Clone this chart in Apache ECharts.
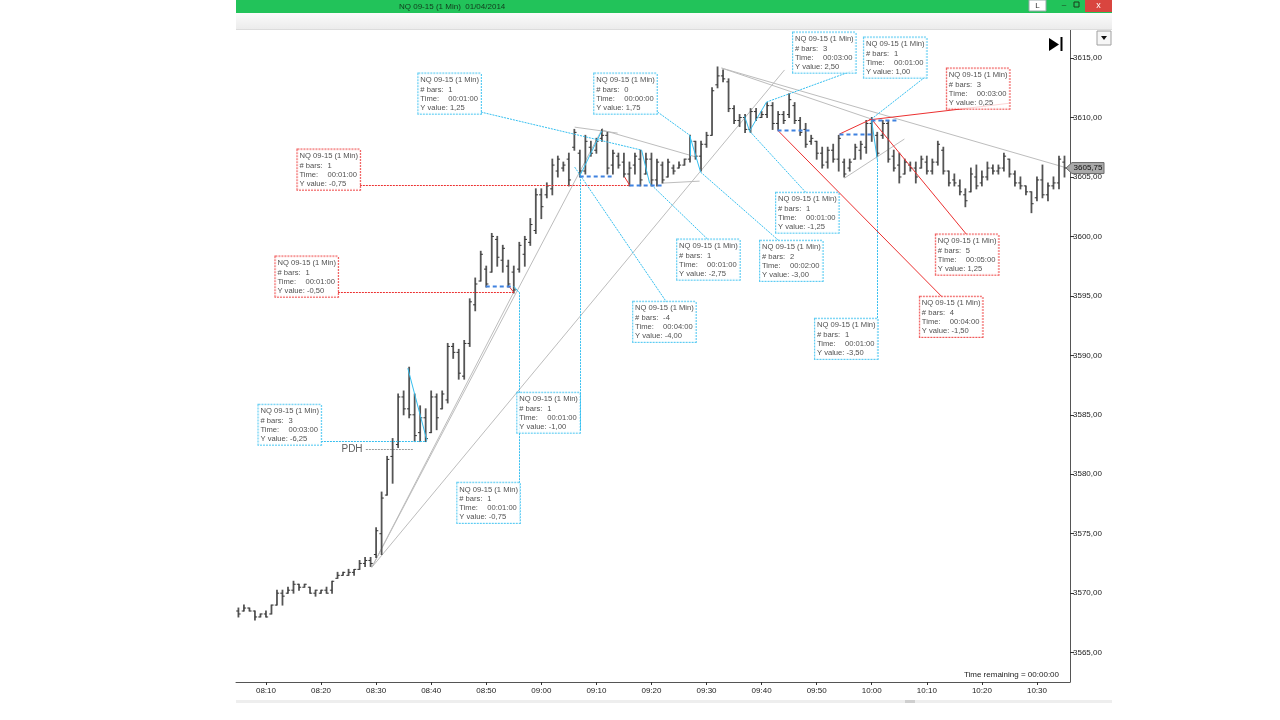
<!DOCTYPE html>
<html><head><meta charset="utf-8">
<script src="https://cdn.jsdelivr.net/npm/echarts@6/dist/echarts.min.js"></script>
<style>html,body{margin:0;padding:0;background:#fff}#c{width:1280px;height:720px}</style>
</head><body><div id="c"></div>
<script>
// ---- data (minute index 0 = 08:05) ----
const opens = [3568.50,3568.50,3568.75,3568.50,3568.00,3568.25,3568.25,3569.00,3570.00,3570.00,
3570.25,3570.75,3570.50,3570.50,3570.00,3570.00,3570.25,3570.25,3571.25,3571.50,
3571.50,3571.75,3572.00,3572.50,3572.75,3573.25,3575.00,3578.25,3581.50,3582.50,
3586.50,3585.50,3585.00,3583.50,3584.75,3583.50,3586.50,3585.50,3586.25,3590.75,
3590.25,3588.25,3591.00,3594.25,3596.25,3597.25,3597.00,3599.75,3598.00,3597.50,
3597.00,3597.25,3598.50,3599.50,3600.50,3603.50,3603.50,3604.00,3605.50,3605.75,
3606.50,3607.50,3607.00,3605.50,3607.50,3607.25,3608.25,3608.50,3606.00,3606.75,
3606.25,3605.25,3606.00,3606.50,3605.25,3606.50,3604.75,3606.00,3605.00,3605.75,
3605.75,3606.00,3606.50,3608.00,3606.75,3607.75,3608.50,3612.75,3613.50,3613.00,
3610.75,3609.75,3610.00,3609.00,3610.50,3610.00,3610.25,3611.00,3609.50,3610.25,
3610.25,3611.00,3609.75,3609.00,3608.00,3608.00,3607.00,3606.25,3607.25,3606.50,
3606.25,3605.75,3606.50,3607.25,3607.50,3609.50,3608.50,3608.50,3609.50,3606.75,
3606.00,3605.25,3606.00,3605.75,3605.75,3606.25,3605.50,3606.25,3607.25,3605.50,
3604.75,3604.25,3603.50,3603.75,3605.00,3604.50,3605.00,3605.75,3605.50,3605.75,
3606.50,3605.25,3604.50,3604.25,3603.75,3603.25,3604.75,3603.50,3604.25,3604.50,
3606.25];
const highs = [3568.75,3569.00,3568.75,3568.50,3568.25,3568.50,3569.00,3570.25,3570.25,3570.50,
3571.00,3570.75,3570.75,3570.50,3570.25,3570.25,3570.50,3571.00,3571.75,3571.75,
3572.00,3572.00,3572.75,3573.00,3573.00,3575.50,3578.50,3581.50,3583.00,3586.75,
3587.00,3589.00,3586.75,3585.75,3585.50,3587.00,3586.75,3587.00,3591.00,3591.00,
3590.50,3591.25,3594.75,3596.50,3598.75,3597.50,3600.25,3600.00,3599.25,3598.00,
3597.50,3599.50,3600.00,3601.50,3604.00,3604.00,3604.50,3606.50,3606.75,3606.25,
3607.00,3609.00,3607.25,3608.50,3608.00,3608.25,3609.00,3608.75,3607.25,3607.00,
3607.00,3606.25,3607.00,3607.25,3607.00,3607.00,3606.50,3606.25,3606.50,3606.00,
3606.25,3606.50,3608.50,3608.00,3608.00,3608.75,3612.50,3614.25,3614.00,3613.25,
3611.00,3610.25,3610.25,3610.75,3610.75,3610.50,3611.25,3611.25,3610.50,3610.50,
3612.00,3611.25,3610.00,3609.50,3608.50,3608.00,3607.50,3607.50,3607.75,3608.50,
3606.50,3606.50,3607.75,3608.00,3609.75,3610.00,3608.75,3609.75,3609.75,3607.25,
3607.00,3606.50,3606.25,3606.25,3606.75,3606.75,3606.50,3608.00,3607.50,3605.50,
3605.25,3604.75,3604.00,3605.75,3606.00,3605.50,3606.25,3606.00,3606.00,3607.00,
3606.50,3605.50,3605.00,3604.25,3603.75,3605.00,3606.00,3604.50,3605.00,3606.75,
3606.75];
const lows = [3568.00,3568.50,3568.50,3567.75,3568.00,3568.00,3568.25,3569.00,3569.00,3570.00,
3570.00,3570.25,3570.50,3570.00,3569.75,3570.00,3570.00,3570.00,3571.25,3571.50,
3571.50,3571.50,3572.00,3572.25,3572.25,3573.00,3573.25,3578.25,3579.25,3582.25,
3585.00,3584.75,3582.75,3582.75,3582.75,3583.50,3583.75,3585.50,3586.00,3589.75,
3588.00,3588.00,3590.75,3593.75,3596.25,3595.75,3597.00,3597.50,3597.00,3595.75,
3595.25,3597.00,3597.50,3599.25,3600.25,3601.50,3603.25,3603.50,3605.00,3605.50,
3604.25,3607.25,3605.00,3605.25,3606.75,3607.00,3608.00,3605.25,3605.25,3605.75,
3605.00,3604.25,3605.25,3604.25,3605.25,3604.25,3604.25,3604.50,3605.00,3605.25,
3605.75,3606.00,3606.25,3606.50,3605.50,3607.50,3608.50,3612.50,3613.00,3610.50,
3609.50,3609.25,3608.75,3608.75,3609.75,3610.00,3610.00,3609.00,3609.00,3609.50,
3610.00,3609.50,3608.50,3607.50,3607.75,3606.50,3605.75,3605.75,3606.25,3605.50,
3605.00,3605.50,3606.50,3606.50,3607.00,3608.00,3606.75,3608.25,3606.25,3605.50,
3604.50,3605.25,3605.50,3604.50,3605.75,3605.25,3605.25,3606.00,3605.25,3604.25,
3604.25,3603.50,3602.50,3603.75,3604.00,3604.25,3604.75,3605.25,3605.25,3605.50,
3605.00,3604.25,3604.00,3603.50,3602.00,3603.00,3603.25,3603.00,3604.00,3604.00,
3605.00];
const closes = [3568.25,3568.75,3568.50,3568.00,3568.25,3568.00,3569.00,3570.00,3569.75,3570.25,
3570.75,3570.50,3570.75,3570.00,3570.25,3570.25,3570.00,3571.00,3571.50,3571.75,
3571.75,3572.00,3572.50,3572.75,3572.50,3575.25,3578.00,3581.25,3582.75,3586.50,
3585.50,3585.00,3583.25,3584.75,3583.00,3586.50,3584.75,3586.75,3590.75,3590.25,
3588.50,3591.00,3594.50,3596.00,3598.50,3596.00,3600.00,3598.25,3599.00,3596.00,
3595.50,3599.25,3599.75,3601.00,3603.50,3602.50,3604.25,3606.00,3606.50,3606.00,
3604.75,3608.75,3605.50,3608.00,3607.00,3608.00,3608.50,3605.75,3607.00,3606.00,
3605.25,3605.75,3606.75,3604.75,3606.50,3604.75,3606.25,3604.75,3606.25,3605.50,
3606.00,3606.50,3608.00,3606.75,3607.75,3608.50,3612.25,3613.50,3613.25,3610.75,
3609.75,3610.00,3609.00,3610.50,3610.00,3610.25,3611.00,3609.50,3610.25,3609.75,
3611.50,3609.75,3608.75,3607.75,3608.25,3607.00,3606.00,3607.25,3606.50,3608.25,
3605.25,3606.25,3607.50,3607.75,3609.50,3609.75,3607.00,3609.50,3606.50,3605.75,
3605.00,3606.25,3605.75,3605.00,3606.50,3605.50,3606.25,3607.75,3605.50,3604.50,
3604.50,3603.75,3603.00,3605.25,3604.25,3605.00,3605.75,3605.50,3605.75,3606.75,
3605.25,3604.50,3604.25,3603.75,3602.75,3604.75,3603.50,3604.25,3604.50,3606.50,
3605.75];
const tickMinutes = [5,15,25,35,45,55,65,75,85,95,105,115,125,135,145];
const timeLabels = ['08:10','08:20','08:30','08:40','08:50','09:00','09:10','09:20','09:30','09:40','09:50','10:00','10:10','10:20','10:30'];
const priceTicks = [3565,3570,3575,3580,3585,3590,3595,3600,3605,3610,3615];
const lastPrice = 3605.75;

// ruler text boxes: anchor (minute, price) of the top-left corner
const boxAnchors = [[32.76,3613.65],[64.69,3613.65],[100.79,3617.10],[113.67,3616.68],[128.73,3614.07],
[10.81,3607.26],[97.71,3603.64],[79.75,3599.69],[94.80,3599.60],[126.73,3600.11],[6.81,3598.26],
[71.76,3594.47],[123.83,3594.89],[104.78,3593.04],[50.72,3586.82],[3.73,3585.81],[39.83,3579.24]];
const boxBars = ['1','0','3','1','3','1','1','1','2','5','1','-4','4','1','1','3','1'];
const boxTimes = ['00:01:00','00:00:00','00:03:00','00:01:00','00:03:00','00:01:00','00:01:00','00:01:00','00:02:00','00:05:00','00:01:00','00:04:00','00:04:00','00:01:00','00:01:00','00:03:00','00:01:00'];
const boxYValues = ['1,25','1,75','2,50','1,00','0,25','-0,75','-1,25','-2,75','-3,00','1,25','-0,50','-4,00','-1,50','-3,50','-1,00','-6,25','-0,75'];
const boxKinds = ['c','c','c','c','r','r','c','c','c','r','r','c','r','c','c','c','c'];

// drawn objects, segments as [minute1, price1, minute2, price2]
const greyLines = [[24.23,3572.18,66.14,3609.11],[24.23,3572.18,49.99,3595.31],[24.23,3572.18,99.16,3614.0],
[87.73,3614.16,150.5,3605.75],[87.73,3614.16,114.94,3609.87],[110.04,3604.90,120.93,3608.19],
[61.06,3609.19,68.86,3608.69],[66.14,3608.94,83.19,3606.67],[76.84,3604.48,83.74,3604.65]];
const pdhLine = [[23.14,3582.10,31.85,3582.10]];
const cyanSolid = [[30.76,3588.92,34.21,3582.86],[61.97,3605.07,65.96,3608.86],[81.92,3608.44,81.92,3606.75],
[81.92,3608.52,83.92,3605.41],[73.21,3607.26,74.66,3604.48],[91.90,3610.12,92.81,3608.86],
[92.81,3608.86,95.89,3611.30],[114.94,3609.87,116.03,3606.42],[49.99,3595.82,50.90,3595.31]];
const cyanDotted = [[14.98,3582.78,34.21,3582.78],[50.90,3595.31,50.90,3576.05],[61.97,3605.07,61.97,3583.62],
[61.06,3605.83,77.75,3594.47],[44.01,3610.46,73.21,3607.26],[76.12,3610.46,81.92,3608.52],
[74.66,3604.48,85.37,3599.69],[83.92,3605.41,98.25,3599.60],[92.81,3608.86,103.15,3603.64],
[95.89,3611.30,111.86,3613.99],[116.03,3606.42,116.03,3589.93],[114.94,3609.87,124.92,3613.49]];
const redSolid = [[97.89,3608.94,127.82,3594.89],[109.14,3608.61,114.94,3609.87],[114.94,3609.87,132.18,3600.19],
[114.5,3609.8,139.98,3611.2],[70.13,3604.99,71.04,3604.31],[49.09,3595.82,49.99,3595.31]];
const redDotted = [[22.05,3604.31,71.04,3604.31],[18.06,3595.31,49.99,3595.31]];
const blueDashed = [[44.91,3595.82,49.99,3595.82],[71.04,3604.31,76.84,3604.31],[61.97,3605.07,67.77,3605.07],
[97.89,3608.94,103.69,3608.94],[109.14,3608.61,114.94,3608.61],[114.94,3609.78,120.02,3609.78]];
const pdhPoint = [23.0, 3582.10];

// ---- chart ----
const FONT = 'Liberation Sans, Arial, sans-serif';
const CYAN = '#35bff0', RED = '#ec3030', BLUE = '#3f82e0', GREY = '#bdbdbd';
const chart = echarts.init(document.getElementById('c'), null, {renderer: 'canvas'});

function segSeries(name, segs, color, width, dash, z) {
  return {
    name, type: 'custom', silent: true, z,
    data: segs,
    encode: {x: [0, 2], y: [1, 3]},
    renderItem: function (params, api) {
      const a = api.coord([api.value(0), api.value(1)]);
      const b = api.coord([api.value(2), api.value(3)]);
      const crisp = v => Math.round(v) + 0.5;
      let x1 = a[0], y1 = a[1], x2 = b[0], y2 = b[1];
      if (Math.abs(x1 - x2) < 0.01) { x1 = x2 = crisp(x1); }
      if (Math.abs(y1 - y2) < 0.01) { y1 = y2 = crisp(y1); }
      return {type: 'line', shape: {x1, y1, x2, y2},
        style: {stroke: color, lineWidth: width, lineDash: dash, fill: null}};
    },
    animation: false
  };
}

const ohlcData = opens.map((o, i) => [i, o, highs[i], lows[i], closes[i]]);
const boxText = i => 'NQ 09-15 (1 Min)\n{k|# bars:}{v|' + boxBars[i] + '}\n{k|Time:}{v|' + boxTimes[i] + '}\n{y|Y value: }{v|' + boxYValues[i] + '}';
const TXT = {fontSize: 7.6, lineHeight: 9.3, color: '#222', fontFamily: FONT};

const option = {
  animation: false,
  backgroundColor: '#fff',
  grid: {left: 236, right: 210, top: 30, bottom: 38, containLabel: false, show: false},
  xAxis: {
    type: 'value', min: -0.44, max: 151,
    axisLine: {show: true, onZero: false, lineStyle: {color: '#555', width: 1}},
    axisTick: {show: true, customValues: tickMinutes, length: 3, lineStyle: {color: '#333'}},
    axisLabel: {show: true, customValues: tickMinutes, margin: 5, fontSize: 8, color: '#222', fontFamily: FONT,
      formatter: v => timeLabels[tickMinutes.indexOf(Math.round(v))] || ''},
    splitLine: {show: false}
  },
  yAxis: {
    type: 'value', position: 'right', min: 3562.53, max: 3617.36, scale: true,
    axisLine: {show: true, onZero: false, lineStyle: {color: '#555', width: 1}},
    axisTick: {show: true, customValues: priceTicks, length: 4, lineStyle: {color: '#333'}},
    axisLabel: {show: true, customValues: priceTicks, margin: 3, fontSize: 8, color: '#222', fontFamily: FONT,
      formatter: v => v.toFixed(2).replace('.', ',')},
    splitLine: {show: false}
  },
  series: [
    segSeries('grey', greyLines, GREY, 1, null, 2),
    segSeries('pdh', pdhLine, '#9a9a9a', 1, [2, 1], 2),
    {
      type: 'custom', name: 'NQ 09-15', z: 3,
      data: ohlcData,
      encode: {x: 0, y: [1, 2, 3, 4]},
      renderItem: function (params, api) {
        const m = api.value(0);
        const ph = api.coord([m, api.value(2)]);
        const pl = api.coord([m, api.value(3)]);
        const po = api.coord([m, api.value(1)]);
        const pc = api.coord([m, api.value(4)]);
        return {
          type: 'group', children: [
            {type: 'line', shape: {x1: ph[0], y1: ph[1] - 0.5, x2: pl[0], y2: pl[1] + 0.5}, style: {stroke: '#555', lineWidth: 1.8}},
            {type: 'line', shape: {x1: po[0] - 2.2, y1: po[1], x2: po[0], y2: po[1]}, style: {stroke: '#333', lineWidth: 1}},
            {type: 'line', shape: {x1: pc[0], y1: pc[1], x2: pc[0] + 2.2, y2: pc[1]}, style: {stroke: '#333', lineWidth: 1}}
          ]
        };
      },
      animation: false
    },
    segSeries('redDotted', redDotted, RED, 1, [2, 1], 4),
    segSeries('cyanDotted', cyanDotted, CYAN, 1, [2, 1], 4),
    segSeries('cyanSolid', cyanSolid, CYAN, 1, null, 4),
    segSeries('redSolid', redSolid, RED, 1, null, 4),
    segSeries('blueDashed', blueDashed, BLUE, 2, [4, 3], 5),
    {
      type: 'scatter', name: 'boxes', z: 10, silent: true,
      symbol: 'rect', symbolSize: 1, itemStyle: {color: 'rgba(0,0,0,0)'},
      data: boxAnchors.map((a, i) => ({
        value: a,
        label: {borderColor: boxKinds[i] === 'r' ? RED : CYAN}
      })),
      label: Object.assign({
        show: true, position: [0, 0], backgroundColor: '#fff', borderWidth: 1, borderType: [2, 1],
        padding: [2, 2, 1, 2],
        formatter: p => boxText(p.dataIndex),
        rich: {
          k: Object.assign({width: 28}, TXT),
          y: Object.assign({}, TXT),
          v: Object.assign({}, TXT)
        }
      }, TXT),
      animation: false
    },
    {
      type: 'scatter', name: 'pdh', z: 10, silent: true, symbolSize: 1, itemStyle: {color: 'rgba(0,0,0,0)'},
      data: [pdhPoint],
      label: {show: true, position: 'left', distance: 2, formatter: 'PDH', fontSize: 10, color: '#333', fontFamily: FONT},
      animation: false
    }
  ],
  graphic: [
    {id: 'title', type: 'rect', shape: {x: 236, y: 0, width: 876, height: 13}, style: {fill: '#22c35a'}, z: 100},
    {id: 'titleText', type: 'text', x: 399, y: 7, style: {text: 'NQ 09-15 (1 Min)  01/04/2014', fontSize: 8, fontFamily: FONT, fill: '#123a1c', textVerticalAlign: 'middle'}, z: 101},
    {id: 'btnL', type: 'rect', shape: {x: 1029, y: 0, width: 17, height: 11}, style: {fill: '#fff', stroke: '#9aa', lineWidth: 1}, z: 101},
    {id: 'btnLt', type: 'text', x: 1037.5, y: 5.5, style: {text: 'L', fontSize: 8, fontFamily: FONT, fill: '#333', textAlign: 'center', textVerticalAlign: 'middle'}, z: 102},
    {id: 'btnMin', type: 'text', x: 1064, y: 5, style: {text: '–', fontSize: 8, fontFamily: FONT, fill: '#1a3a1a', textAlign: 'center', textVerticalAlign: 'middle'}, z: 101},
    {id: 'btnMax', type: 'rect', shape: {x: 1074, y: 2, width: 5, height: 5}, style: {fill: 'none', stroke: '#1a3a1a', lineWidth: 1}, z: 101},
    {id: 'btnX', type: 'rect', shape: {x: 1085, y: 0, width: 27, height: 12}, style: {fill: '#d9453f'}, z: 101},
    {id: 'btnXt', type: 'text', x: 1098.5, y: 6, style: {text: 'x', fontSize: 9, fontFamily: FONT, fill: '#fff', textAlign: 'center', textVerticalAlign: 'middle'}, z: 102},
    {id: 'toolbar', type: 'rect', shape: {x: 236, y: 13, width: 876, height: 17},
      style: {fill: new echarts.graphic.LinearGradient(0, 0, 0, 1, [{offset: 0, color: '#fbfbfb'}, {offset: 1, color: '#ebebeb'}])}, z: 100},
    {id: 'toolbarLine', type: 'line', shape: {x1: 236, y1: 29.5, x2: 1112, y2: 29.5}, style: {stroke: '#dcdcdc', lineWidth: 1}, z: 100},
    {id: 'goEndTri', type: 'polygon', shape: {points: [[1049, 38], [1049, 51], [1059, 44.5]]}, style: {fill: '#000'}, z: 100},
    {id: 'goEndBar', type: 'rect', shape: {x: 1060.5, y: 37, width: 2, height: 14}, style: {fill: '#000'}, z: 100},
    {id: 'dd', type: 'rect', shape: {x: 1097, y: 31, width: 14, height: 14}, style: {fill: '#f6f6f6', stroke: '#a0a0a0', lineWidth: 1}, z: 100},
    {id: 'ddTri', type: 'polygon', shape: {points: [[1101, 36], [1107, 36], [1104, 40]]}, style: {fill: '#111'}, z: 101},
    {id: 'timeRem', type: 'text', x: 1059, y: 675, style: {text: 'Time remaining = 00:00:00', fontSize: 8, fontFamily: FONT, fill: '#222', textAlign: 'right', textVerticalAlign: 'middle'}, z: 100},
    {id: 'scroll', type: 'rect', shape: {x: 236, y: 700, width: 876, height: 3}, style: {fill: '#eeeeee'}, z: 100},
    {id: 'scrollThumb', type: 'rect', shape: {x: 905, y: 700, width: 10, height: 3}, style: {fill: '#cfcfcf'}, z: 101}
  ]
};
chart.setOption(option);

// last price marker on the price axis
const pp = chart.convertToPixel({gridIndex: 0}, [151, lastPrice]);
chart.setOption({
  graphic: [
    {id: 'lastPx', type: 'polygon', shape: {points: [[pp[0] - 4, pp[1]], [pp[0] + 2, pp[1] - 5.5], [pp[0] + 34, pp[1] - 5.5], [pp[0] + 34, pp[1] + 5.5], [pp[0] + 2, pp[1] + 5.5]]},
      style: {fill: '#a9a9a9', stroke: '#6a6a6a', lineWidth: 1}, z: 110},
    {id: 'lastPxT', type: 'text', x: pp[0] + 18, y: pp[1], style: {text: lastPrice.toFixed(2).replace('.', ','), fontSize: 8, fontFamily: FONT, fill: '#111', textAlign: 'center', textVerticalAlign: 'middle'}, z: 111}
  ]
});
</script>
</body></html>
